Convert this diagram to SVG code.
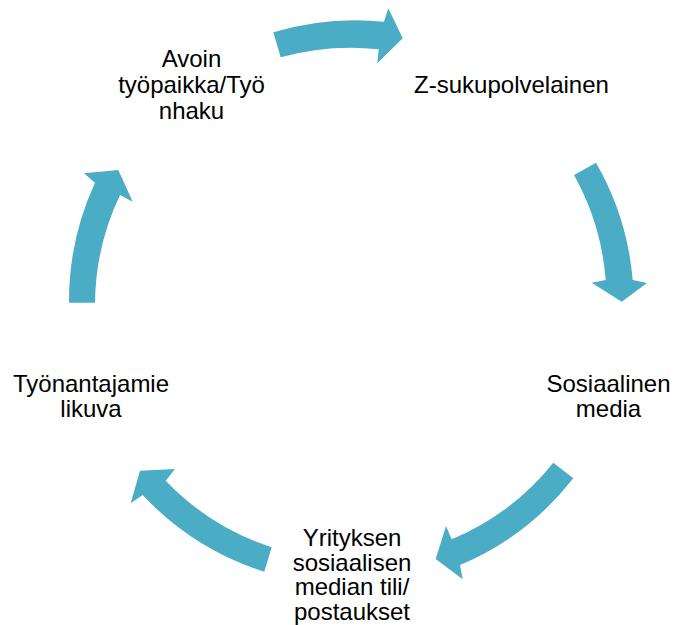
<svg xmlns="http://www.w3.org/2000/svg" width="674" height="625" viewBox="0 0 674 625">
<style>
.arrow{fill:#4BACC6;stroke:none}
.lbl{font-family:"Liberation Sans",Arial,sans-serif;font-size:24px;fill:#000;text-anchor:middle}
</style>
<rect width="674" height="625" fill="#fff"/>
<g id="connectors">
<path class="arrow" d="M273.3,32.3 A283,283 0 0 1 384,21.7 L388.3,8.3 L402.7,38.3 L377.3,63.3 L378.7,49.3 A257,257 0 0 0 280.7,57.3 Z"/>
<path class="arrow" d="M596,162.7 A283,283 0 0 1 632.7,280 L647,283 L621.7,301.7 L591.7,282.7 L605.7,280 A257,257 0 0 0 574,175 Z"/>
<path class="arrow" d="M573.3,478.3 A283,283 0 0 1 460,565 L462.7,579.3 L435.7,559 L446,526 L451.7,539.3 A257,257 0 0 0 553.3,462.7 Z"/>
<path class="arrow" d="M264.3,571.7 A283,283 0 0 1 142.7,495 L130.7,503.3 L140,470.7 L175,469 L165.7,480.7 A257,257 0 0 0 271.7,547.3 Z"/>
<path class="arrow" d="M69,302.7 A283,283 0 0 1 95,182.7 L84,173.3 L118.3,170 L132.7,201.7 L120,195 A257,257 0 0 0 95,302.7 Z"/>
</g>
<g id="node-z"><text class="lbl" x="511.5" y="93">Z-sukupolvelainen</text></g>
<g id="node-some"><text class="lbl" x="608.5" y="391.5">Sosiaalinen</text><text class="lbl" x="608.5" y="416.5">media</text></g>
<g id="node-yritys"><text class="lbl" x="352" y="545.5">Yrityksen</text><text class="lbl" x="352" y="570.5">sosiaalisen</text><text class="lbl" x="352" y="595">median tili/</text><text class="lbl" x="352" y="619.5">postaukset</text></g>
<g id="node-tyonantaja"><text class="lbl" x="91" y="391.5">Työnantajamie</text><text class="lbl" x="91" y="416.5">likuva</text></g>
<g id="node-avoin"><text class="lbl" x="191.5" y="67">Avoin</text><text class="lbl" x="191.5" y="93">työpaikka/Työ</text><text class="lbl" x="191.5" y="118.5">nhaku</text></g>
</svg>
